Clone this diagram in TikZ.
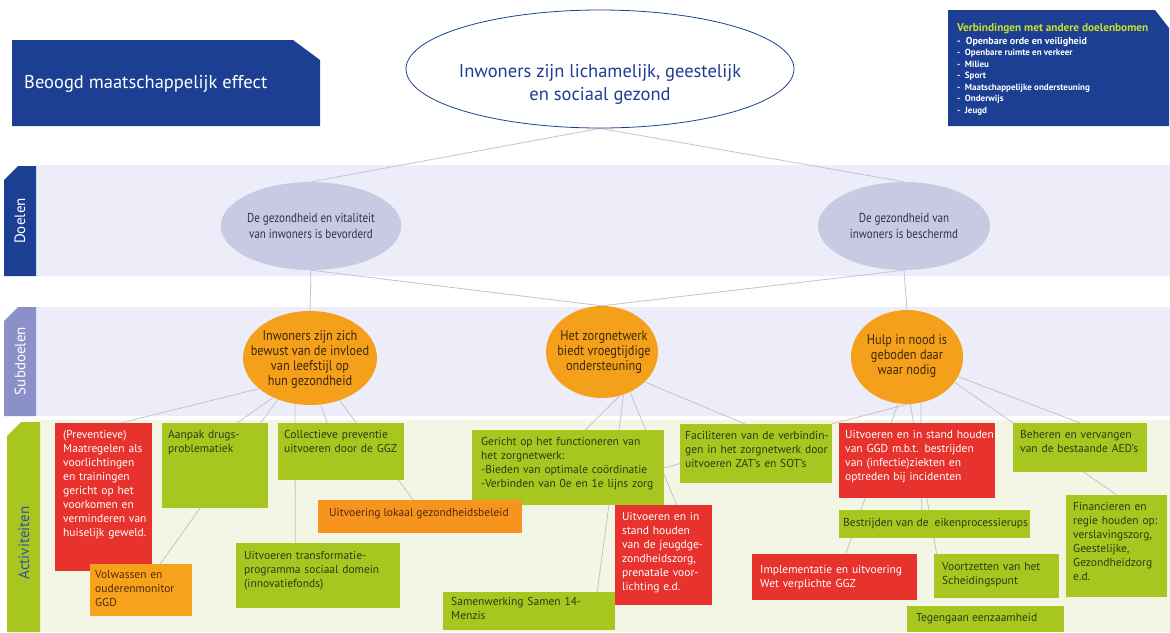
\documentclass[tikz,border=0pt]{standalone}
\usepackage{fontspec}
\setmainfont{PT Sans}
\newfontfamily\condfont[FakeStretch=0.85]{PT Sans}
\newfontfamily\circfont[FakeStretch=0.88]{PT Sans}
\usetikzlibrary{calc,shapes.geometric}
\pgfdeclarelayer{bg}
\pgfdeclarelayer{lines}
\pgfsetlayers{bg,lines,main}
\definecolor{darkblue}{RGB}{28,63,148}
\definecolor{bandlav}{RGB}{236,237,248}
\definecolor{bandgreen}{RGB}{243,246,228}
\definecolor{doelfill}{RGB}{200,202,228}
\definecolor{subtab}{RGB}{139,144,201}
\definecolor{orangec}{RGB}{245,160,26}
\definecolor{actgreen}{RGB}{168,198,32}
\definecolor{actred}{RGB}{232,50,46}
\definecolor{actorange}{RGB}{247,148,30}
\definecolor{actorangeb}{RGB}{246,163,27}
\definecolor{titlegreen}{RGB}{200,224,40}
\definecolor{tabblue}{RGB}{52,80,160}
\definecolor{greentext}{RGB}{50,56,20}
\definecolor{browntext}{RGB}{85,40,10}
\definecolor{circtext}{RGB}{60,40,10}
\definecolor{doeltext}{RGB}{50,50,70}
\definecolor{linegray}{RGB}{195,196,202}
\begin{document}
\begin{tikzpicture}[x=1pt,y=-1pt,
  conn/.style={draw=linegray, line width=0.8pt},
  boxbase/.style={rectangle, draw=none, inner sep=0pt, anchor=north west},
  gbox/.style={boxbase, fill=actgreen},
  rbox/.style={boxbase, fill=actred},
  obox/.style={boxbase, fill=actorange},
  oboxb/.style={boxbase, fill=actorangeb},
  btext/.style={anchor=north west, inner sep=0pt, align=left, font=\fontsize{11.5}{14}\selectfont},
  gtext/.style={btext, text=greentext},
  wtext/.style={btext, text=white},
  otext/.style={btext, text=browntext},
  doel/.style={ellipse, fill=doelfill, inner sep=0pt, align=center, text=doeltext, font=\condfont\fontsize{13}{15.5}\selectfont},
  sub/.style={ellipse, fill=orangec, inner sep=0pt},
  subtext/.style={inner sep=0pt, align=center, text=circtext, font=\circfont\fontsize{14}{15}\selectfont},
  tabtext/.style={inner sep=0pt, rotate=90, font=\fontsize{15}{18}\selectfont}
]
\useasboundingbox (0,0) rectangle (1170,632);

% background and bands
\begin{pgfonlayer}{bg}
\fill[white] (0,0) rectangle (1170,632);
\fill[bandlav] (36,165) rectangle (1170,276);
\fill[bandlav] (36,307) rectangle (1170,416);
\fill[bandgreen] (40,420) rectangle (1170,632);
\end{pgfonlayer}

% tabs
\fill[darkblue] (4,180) -- (18,166) -- (36,166) -- (36,276) -- (4,276) -- cycle;
\node[tabtext, text=white] (tabD) at (20,221) {Doelen};
\fill[subtab] (4,321) -- (18,307) -- (36,307) -- (36,416) -- (4,416) -- cycle;
\node[tabtext, text=white] (tabS) at (20,361) {Subdoelen};
\fill[actgreen] (7,436) -- (21,422) -- (40,422) -- (40,632) -- (7,632) -- cycle;
\node[tabtext, text=tabblue] (tabA) at (24,543) {Activiteiten};

% header
\fill[darkblue] (12,40) -- (293,40) -- (320,60) -- (320,126) -- (12,126) -- cycle;
\node[anchor=west, inner sep=0pt, text=white, font=\fontsize{18.5}{22}\selectfont] (hdr) at (24,84) {Beoogd maatschappelijk effect};

% top ellipse
\node[ellipse, draw=darkblue, line width=0.8pt, fill=white, minimum width=388, minimum height=118, inner sep=0pt] (top) at (600,69) {};
\node[align=center, inner sep=0pt, text=darkblue, font=\fontsize{18.5}{23}\selectfont] (topt) at (600,84) {Inwoners zijn lichamelijk, geestelijk\\en sociaal gezond};

% verbindingen box
\fill[darkblue] (948,10) -- (1155,10) -- (1169,28) -- (1169,126) -- (948,126) -- cycle;
\node[anchor=west, inner sep=0pt, text=titlegreen, font=\bfseries\fontsize{11.3}{12}\selectfont] (vtitle) at (957,29) {Verbindingen met andere doelenbomen};
\node[anchor=north west, inner sep=0pt, align=left, text=white, font=\bfseries\fontsize{9}{11.5}\selectfont] (vlist) at (957,37)
{{\fontsize{10}{11.5}\selectfont -\enspace Openbare orde en veiligheid}\\
-\enspace Openbare ruimte en verkeer\\
-\enspace Milieu\\
-\enspace Sport\\
-\enspace Maatschappelijke ondersteuning\\
-\enspace Onderwijs\\
-\enspace Jeugd};

% doelen
\node[doel, minimum width=178, minimum height=88] (d1) at (311,226) {De gezondheid en vitaliteit\\van inwoners is bevorderd};
\node[doel, minimum width=172, minimum height=88] (d2) at (904,226) {De gezondheid van\\inwoners is beschermd};

% subdoelen
\node[sub, minimum width=134, minimum height=94] (s1) at (310,358) {};
\node[subtext] (s1t) at (310,360) {Inwoners zijn zich\\bewust van de invloed\\van leefstijl op\\hun gezondheid};
\node[sub, minimum width=112, minimum height=92] (s2) at (602,352) {};
\node[subtext] (s2t) at (604,352) {Het zorgnetwerk\\biedt vroegtijdige\\ondersteuning};
\node[sub, minimum width=112, minimum height=94] (s3) at (907,357) {};
\node[subtext] (s3t) at (907,356) {Hulp in nood is\\geboden daar\\waar nodig};

% activities
\node[rbox, minimum width=97, minimum height=148] (a1) at (55,423) {};
\node[wtext, text width=90] (a1t) at (63,430) {(Preventieve)\\Maatregelen als\\voorlichtingen\\en trainingen\\gericht op het\\voorkomen en\\verminderen van\\huiselijk geweld.};
\node[gbox, minimum width=106, minimum height=85] (a2) at (162,423) {};
\node[gtext, text width=98] (a2t) at (168,430) {Aanpak drugs-\\problematiek};
\node[gbox, minimum width=126, minimum height=57] (a3) at (278,423) {};
\node[gtext, text width=120] (a3t) at (284,430) {Collectieve preventie\\uitvoeren door de GGZ};
\node[gbox, minimum width=192, minimum height=75] (a7) at (472,430) {};
\node[gtext, text width=186] (a7t) at (481,437) {Gericht op het functioneren van\\het zorgnetwerk:\\-Bieden van optimale coördinatie\\-Verbinden van 0e en 1e lijns zorg};
\node[obox, minimum width=204, minimum height=33] (a4) at (318,500) {};
\node[otext, anchor=west] (a4t) at (329,514) {Uitvoering lokaal gezondheidsbeleid};
\node[oboxb, minimum width=102, minimum height=52] (a5) at (90,564) {};
\node[otext, text width=96] (a5t) at (95,570) {Volwassen en\\ouderenmonitor\\GGD};
\node[gbox, minimum width=164, minimum height=65] (a6) at (236,543) {};
\node[gtext, text width=160] (a6t) at (244,551) {Uitvoeren transformatie-\\programma sociaal domein\\(innovatiefonds)};
\node[gbox, minimum width=152, minimum height=59] (a8) at (680,424) {};
\node[gtext, text width=150] (a8t) at (685,431) {Faciliteren van de verbindin-\\gen in het zorgnetwerk door\\uitvoeren ZAT’s en SOT’s};
\node[gbox, minimum width=172, minimum height=38] (a10) at (443,592) {};
\node[gtext, text width=165] (a10t) at (451,597) {Samenwerking Samen 14-\\Menzis};
\node[rbox, minimum width=97, minimum height=100] (a9) at (615,505) {};
\node[wtext, text width=92] (a9t) at (622,512) {Uitvoeren en in\\stand houden\\van de jeugdge-\\zondheidszorg,\\prenatale voor-\\lichting e.d.};
\node[rbox, minimum width=156, minimum height=75] (a11) at (839,423) {};
\node[wtext, text width=152] (a11t) at (845,430) {Uitvoeren en in stand houden\\van GGD m.b.t. bestrijden\\van (infectie)ziekten en\\optreden bij incidenten};
\node[gbox, minimum width=134, minimum height=49] (a12) at (1013,423) {};
\node[gtext, text width=130] (a12t) at (1020,430) {Beheren en vervangen\\van de bestaande AED’s};
\node[gbox, minimum width=191, minimum height=28] (a13) at (839,510) {};
\node[gtext, anchor=west] (a13t) at (843,524) {Bestrijden van de\ \ eikenprocessierups};
\node[rbox, minimum width=165, minimum height=46] (a14) at (752,554) {};
\node[wtext, text width=160] (a14t) at (760,565) {Implementatie en uitvoering\\Wet verplichte GGZ};
\node[gbox, minimum width=125, minimum height=44] (a15) at (934,554) {};
\node[gtext, text width=120] (a15t) at (942,562) {Voortzetten van het\\Scheidingspunt};
\node[gbox, minimum width=101, minimum height=102] (a16) at (1066,495) {};
\node[gtext, text width=98] (a16t) at (1073,502) {Financieren en\\regie houden op:\\verslavingszorg,\\Geestelijke,\\Gezondheidzorg\\e.d.};
\node[gbox, minimum width=157, minimum height=26] (a17) at (907,606) {};
\node[gtext, anchor=west] (a17t) at (916,619) {Tegengaan eenzaamheid};

% connectors
\begin{pgfonlayer}{lines}
\draw[conn] (top.south) -- (d1.north);
\draw[conn] (top.south) -- (d2.north);
\draw[conn] (d1.south) -- (s1.north);
\draw[conn] (d1.south) -- (s2.north);
\draw[conn] (d2.south) -- (s2.north);
\draw[conn] (d2.south) -- (s3.north);
\draw[conn] (s1.211) -- ([xshift=17pt]a1.north);
\draw[conn] (s1.227) -- ([xshift=22pt]a2.north);
\draw[conn] (s1.232) -- ([xshift=19pt]a5.north);
\draw[conn] (s1.252) -- ([xshift=-23pt]a6.north);
\draw[conn] (s1.283) -- ([xshift=-14pt]a3.north);
\draw[conn] (s1.305) -- ([xshift=-7pt]a4.north);
\draw[conn] (s2.292) -- ([xshift=17pt]a7.north);
\draw[conn] (s2.297) -- ([xshift=68pt]a10.north);
\draw[conn] (s2.305) -- ([xshift=13pt]a9.north);
\draw[conn] (s2.325) -- ([xshift=-11pt]a8.north);
\draw[conn] (s3.259) -- ([xshift=11pt]a14.north);
\draw[conn] (s3.274) -- ([xshift=-60pt]a15.north);
\draw[conn] (s3.287) -- ([xshift=-13pt]a13.north);
\draw[conn] (s3.309) -- (a7.east);
\draw[conn] (s3.332) -- (a16.north);
\draw[conn] (s3.339) -- (a12.north);
\end{pgfonlayer}
\end{tikzpicture}
\end{document}
